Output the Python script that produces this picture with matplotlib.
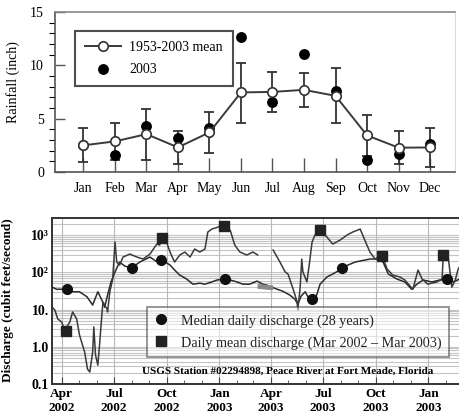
import matplotlib
matplotlib.use('Agg')
import matplotlib.pyplot as plt
import numpy as np
from matplotlib.lines import Line2D
from matplotlib.ticker import FixedLocator, NullFormatter, NullLocator

plt.rcParams['font.family'] = ['Liberation Serif', 'DejaVu Serif']

# ---------------- top panel data ----------------
months = ['Jan', 'Feb', 'Mar', 'Apr', 'May', 'Jun', 'Jul', 'Aug', 'Sep', 'Oct', 'Nov', 'Dec']
mean_rain = [2.5, 2.87, 3.55, 2.31, 3.71, 7.46, 7.51, 7.7, 7.14, 3.43, 2.28, 2.3]
err_high = [4.15, 4.64, 5.92, 3.87, 5.67, 10.25, 9.38, 9.25, 9.76, 5.36, 3.8, 4.15]
err_low = [0.97, 1.09, 1.12, 0.78, 1.75, 4.57, 5.58, 6.05, 4.55, 1.5, 0.72, 0.44]
rain_2003 = [2.56, 1.63, 4.33, 3.18, 4.15, 12.68, 6.6, 11.07, 7.57, 1.12, 1.72, 2.62]

# ---------------- bottom panel data ----------------
# days counted from 1 Apr 2002
median_days = [-17, -9, 9, 19, 31, 44, 54, 63, 70, 75, 80, 86, 93, 101, 110, 122, 136, 154,
               164, 175, 189, 197, 206, 218, 229, 241, 250, 262, 271, 283, 294, 306, 316,
               328, 341, 351, 358, 376, 386, 398, 407, 412, 418, 425, 430, 437, 445, 451,
               463, 473, 489, 500, 512, 521, 538, 550, 561, 570, 585, 599, 611, 620, 631,
               646, 660, 673, 683, 695]
median_vals = [40, 35, 35, 30, 30, 22, 13.2, 30, 18, 11.5, 24.5, 55, 102, 188, 147, 130, 188,
               257, 201, 213, 157, 115, 84, 66, 48, 51, 48, 55, 62, 66, 62, 55, 48,
               48, 58, 48, 45, 35, 31, 24.5, 19, 14, 23, 30, 21.7, 19, 24.5, 48,
               75, 90, 122, 157, 188, 201, 227, 227, 188, 90, 66, 55, 35, 48, 62,
               55, 62, 66, 55, 66]
highlight_days = [342, 369]
highlight_vals = [42, 38]

daily1_days = [-17, -12, -7, 0, 5, 14, 19, 26, 31, 40, 45, 49, 54, 56, 59, 63, 66, 70, 72,
               79, 80, 84, 89, 93, 96, 101, 107, 119, 131, 142, 154, 166, 171, 175, 183,
               189, 197, 206, 215, 224, 232, 241, 250, 255, 262, 271, 281, 294, 302, 311,
               323, 334, 342]
daily1_vals = [11.7, 9.7, 5.6, 4.6, 2.8, 4.6, 8.6, 5.6, 2.07, 0.72, 0.25, 0.21, 0.72, 3.4,
               0.6, 0.32, 1.11, 7.1, 15.9, 10.3, 8.6, 30, 66, 649, 188, 157, 257, 309, 257,
               227, 309, 573, 539, 815, 649, 350, 188, 291, 350, 257, 421, 350, 421, 1204,
               1449, 1600, 1850, 1362, 539, 350, 291, 350, 291]
daily2_days = [369, 381, 390, 395, 404, 411, 412, 416, 419, 421, 428, 432, 437, 442, 451,
               463, 473, 486, 498, 508, 521, 529, 538, 547, 559, 568, 578, 590, 599, 613,
               622, 629, 639, 655, 664, 666, 674, 681, 687, 692, 697]
daily2_vals = [396, 188, 102, 90, 35, 15.9, 9.7, 35, 227, 102, 55, 157, 649, 1000, 1362,
               884, 573, 734, 1000, 1204, 1449, 734, 350, 227, 291, 122, 84, 75, 62, 35,
               115, 66, 48, 55, 66, 291, 309, 40, 62, 122, 160]

circle_days = [9, 123, 174, 285, 437, 489, 673]
circle_vals = [35, 127, 210, 66, 18.6, 127, 67]
square_days = [8, 175, 283, 451, 559, 666]
square_vals = [2.65, 815, 1745, 1362, 278, 290]

quarter_days = [0, 91, 183, 275, 365, 456, 548, 640]
quarter_labels = ['Apr\n2002', 'Jul\n2002', 'Oct\n2002', 'Jan\n2003',
                  'Apr\n2003', 'Jul\n2003', 'Oct\n2003', 'Jan\n2003']
month_days = [-31, 30, 61, 122, 153, 214, 244, 306, 334, 395, 426, 487, 518, 579, 609, 671]
decades = [0.1, 1, 10, 100, 1000]
decade_labels = ['0.1', '1.0', '10.', '10²', '10³']

W, H = 460, 418
fig = plt.figure(figsize=(W / 100, H / 100), dpi=100)

# ================= top panel =================
ax1 = fig.add_axes([55 / W, 1 - 172 / H, 400 / W, 160 / H])
x = np.arange(1, 13)
yerr = [np.array(mean_rain) - np.array(err_low), np.array(err_high) - np.array(mean_rain)]
ax1.errorbar(x, mean_rain, yerr=yerr, fmt='none', ecolor='#333333', elinewidth=1.3,
             capsize=3.8, capthick=1.3, zorder=2)
ax1.plot(x, rain_2003, 'o', color='black', ms=6.8, zorder=3)
ax1.plot(x, mean_rain, '-o', color='#3a3a3a', lw=1.4, ms=6.8, mfc='white',
         mec='#333333', mew=1.2, zorder=4)
ax1.set_xlim(0.1, 12.79)
ax1.set_ylim(0, 15)
ax1.set_xticks(x)
ax1.set_xticklabels(months)
ax1.set_yticks([0, 5, 10, 15])
ax1.yaxis.set_minor_locator(FixedLocator(np.arange(0, 16, 1)))
ax1.tick_params(axis='both', direction='in', labelsize=10, color='#555555')
ax1.tick_params(axis='x', length=10, width=1.0, pad=7)
ax1.tick_params(axis='y', which='major', length=7, width=1.0, pad=8)
ax1.tick_params(axis='y', which='minor', length=4, width=0.8)
ax1.tick_params(axis='x', which='minor', length=0)
for s in ['left', 'bottom']:
    ax1.spines[s].set_color('#555555')
    ax1.spines[s].set_linewidth(1.2)
ax1.spines['top'].set_color('#888888')
ax1.spines['top'].set_linewidth(1.2)
ax1.spines['right'].set_color('#dddddd')
ax1.spines['right'].set_linewidth(0.8)
ax1.set_ylabel('Rainfall (inch)', fontsize=10)
ax1.yaxis.set_label_coords(-0.087, 0.56)

h1 = Line2D([], [], color='#3a3a3a', lw=1.4, marker='o', ms=6.8, mfc='white', mec='#333333',
            mew=1.2)
h2 = Line2D([], [], color='black', lw=0, marker='o', ms=6.8)
leg1 = ax1.legend([h1, h2], ['1953-2003 mean', '2003'], loc='upper left',
                  bbox_to_anchor=((75 - 55) / 400, (172 - 31) / 160), fontsize=10,
                  frameon=True, fancybox=False, edgecolor='#222222', handlelength=2.6,
                  borderpad=0.7, labelspacing=0.7, handletextpad=0.6, borderaxespad=0)
leg1.get_frame().set_linewidth(1.5)

# ================= bottom panel =================
ax2 = fig.add_axes([52 / W, 1 - 384 / H, 409 / W, 166 / H])
ax2.set_yscale('log')
ax2.set_xlim(-17, 697)
ax2.set_ylim(0.1, 2870)

# grid
minor_vals = [m * d for d in [0.1, 1, 10, 100, 1000] for m in range(2, 10)]
for v in minor_vals + decades:
    ax2.axhline(v, color='#c4c4c4', lw=0.8, zorder=0)
for d in quarter_days:
    ax2.axvline(d, color='#b8b8b8', lw=0.8, zorder=0)

ax2.plot(median_days, median_vals, color='#2a2a2a', lw=1.1, zorder=3)
ax2.plot(highlight_days, highlight_vals, color='#888888', lw=3.5, zorder=3,
         solid_capstyle='butt')
ax2.plot(daily1_days, daily1_vals, color='#3a3a3a', lw=1.1, zorder=3)
ax2.plot(daily2_days, daily2_vals, color='#3a3a3a', lw=1.1, zorder=3)
ax2.plot(circle_days, circle_vals, 'o', color='#111111', ms=7, zorder=4)
ax2.plot(square_days, square_vals, 's', color='#222222', ms=6.5, zorder=4)

ax2.yaxis.set_major_locator(FixedLocator(decades))
ax2.set_yticklabels(decade_labels)
ax2.yaxis.set_minor_locator(NullLocator())
ax2.yaxis.set_minor_formatter(NullFormatter())
ax2.set_xticks(quarter_days)
ax2.set_xticklabels(quarter_labels)
ax2.xaxis.set_minor_locator(FixedLocator(month_days))
for lab in ax2.get_xticklabels() + ax2.get_yticklabels():
    lab.set_fontweight('bold')
ax2.tick_params(axis='both', which='both', direction='in', color='#444444')
ax2.tick_params(axis='x', which='major', length=5, labelsize=9.5, pad=3)
ax2.tick_params(axis='x', which='minor', length=3)
ax2.tick_params(axis='y', which='major', length=0, labelsize=10, pad=2)
for s in ax2.spines.values():
    s.set_color('#333333')
    s.set_linewidth(1.4)
ax2.set_ylabel('Discharge (cubit feet/second)', fontsize=9.5, fontweight='bold')
ax2.yaxis.set_label_coords(-0.092, 0.506)

hc = Line2D([], [], color='#111111', lw=0, marker='o', ms=7)
hs = Line2D([], [], color='#222222', lw=0, marker='s', ms=6.5)
leg2 = ax2.legend([hc, hs], ['Median daily discharge (28 years)',
                             'Daily mean discharge (Mar 2002 \u2013 Mar 2003)'],
                  loc='upper left', bbox_to_anchor=((147 - 52) / 409, (384 - 307) / 166),
                  fontsize=10.2, frameon=True, fancybox=False, edgecolor='#333333',
                  facecolor='white', framealpha=0.55, handlelength=1.0, handletextpad=0.9,
                  borderpad=0.5, labelspacing=0.6, borderaxespad=0)
leg2.get_frame().set_linewidth(1.3)
for t in leg2.get_texts():
    t.set_color('#222222')

ax2.text((288 - 52) / 409, (384 - 371) / 166,
         'USGS Station #02294898, Peace River at Fort Meade, Florida',
         transform=ax2.transAxes, ha='center', va='center', fontsize=8,
         fontweight='bold', zorder=5)

fig.savefig('out.png', dpi=100)
